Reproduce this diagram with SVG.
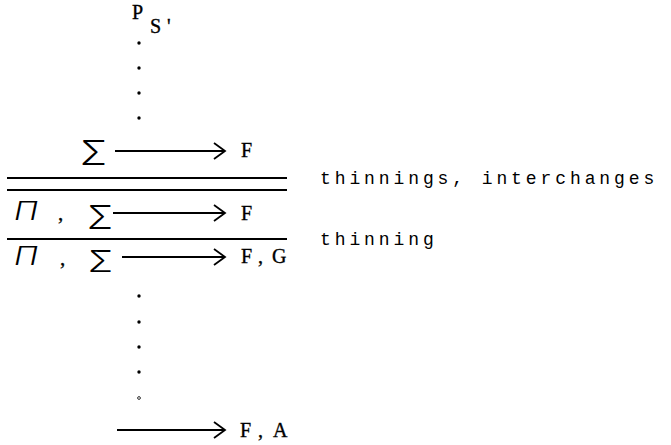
<svg xmlns="http://www.w3.org/2000/svg" width="671" height="445" viewBox="0 0 671 445">
<style>
.serif{font-family:"Liberation Serif","Times New Roman",serif;fill:#000;stroke:#000;stroke-width:0.35}
.mono{font-family:"Liberation Mono","Courier New",monospace;font-size:18px;letter-spacing:3.9px;fill:#000}
.sym{font-family:Inter,"DejaVu Sans",sans-serif;font-weight:300;fill:#000}
.lbl{font-size:20px}
.rule{stroke:#000;stroke-width:2}
.arr{stroke:#000;stroke-width:2;fill:none;marker-end:url(#ah)}
.dot{fill:#000}
</style>
<defs>
<marker id="ah" markerWidth="16" markerHeight="20" refX="14" refY="10" orient="auto" markerUnits="userSpaceOnUse" viewBox="0 0 16 20">
<path d="M3 2 L14 10 L3 18" fill="none" stroke="#000" stroke-width="1.8"/>
</marker>
</defs>
<rect width="671" height="445" fill="#fff"/>

<g id="ps">
<text class="serif" x="132" y="19" font-size="20">P</text>
<text class="serif" x="150" y="33" font-size="20">S</text>
<text class="serif" x="167" y="33" font-size="20">'</text>
</g>

<g id="dots-top">
<circle class="dot" cx="139" cy="43" r="1.7"/>
<circle class="dot" cx="139" cy="68" r="1.7"/>
<circle class="dot" cx="139" cy="93" r="1.7"/>
<circle class="dot" cx="139" cy="118" r="1.7"/>
</g>

<g id="row1">
<text class="sym" x="80" y="165" font-size="34" textLength="27" lengthAdjust="spacingAndGlyphs">Σ</text>
<text class="serif lbl" x="241" y="157">F</text>
</g>

<g id="rules">
<line class="rule" x1="7" y1="178" x2="287" y2="178"/>
<line class="rule" x1="7" y1="190" x2="287" y2="190"/>
<line class="rule" x1="7" y1="239" x2="287" y2="239"/>
</g>

<g id="note1">
<text class="mono" x="320" y="184">thinnings, interchanges</text>
</g>
<g id="note2">
<text class="mono" x="320" y="245">thinning</text>
</g>

<g id="row2">
<text class="sym" x="14" y="220" font-size="25" font-style="italic" textLength="24" lengthAdjust="spacingAndGlyphs">Π</text>
<text class="serif" x="58" y="220" font-size="21">,</text>
<text class="sym" x="87" y="229" font-size="32" textLength="26" lengthAdjust="spacingAndGlyphs">Σ</text>
<text class="serif lbl" x="241" y="220">F</text>
</g>

<g id="row3">
<text class="sym" x="14" y="265" font-size="25" font-style="italic" textLength="24" lengthAdjust="spacingAndGlyphs">Π</text>
<text class="serif" x="60" y="265" font-size="21">,</text>
<text class="sym" x="88" y="272" font-size="30" textLength="25" lengthAdjust="spacingAndGlyphs">Σ</text>
<text class="serif lbl" x="241" y="263">F</text>
<text class="serif lbl" x="258" y="263">,</text>
<text class="serif lbl" x="272" y="263">G</text>
</g>

<g id="dots-bottom">
<circle class="dot" cx="139" cy="296" r="1.7"/>
<circle class="dot" cx="139" cy="322" r="1.7"/>
<circle class="dot" cx="139" cy="347" r="1.7"/>
<circle class="dot" cx="139" cy="372" r="1.7"/>
<circle cx="139" cy="398" r="1.4" fill="none" stroke="#000" stroke-width="0.8"/>
</g>

<g id="row4">
<text class="serif lbl" x="240" y="437">F</text>
<text class="serif lbl" x="258" y="437">,</text>
<text class="serif lbl" x="273" y="437">A</text>
</g>

<g id="connectors">
<line class="arr" x1="115" y1="151" x2="225" y2="151"/>
<line class="arr" x1="113" y1="213" x2="225" y2="213"/>
<line class="arr" x1="122" y1="257" x2="225" y2="257"/>
<line class="arr" x1="117" y1="430" x2="225" y2="430"/>
</g>
</svg>
